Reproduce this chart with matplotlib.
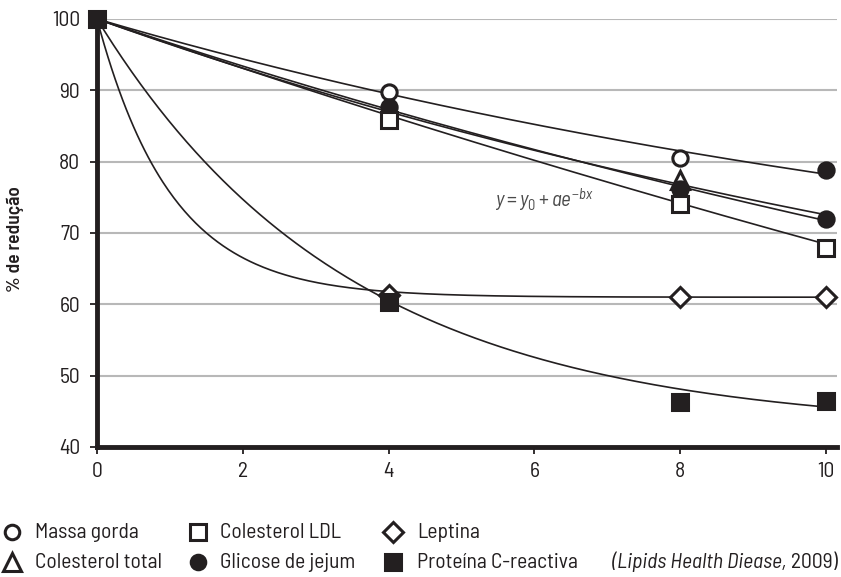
import numpy as np
import matplotlib
matplotlib.use("Agg")
import matplotlib.pyplot as plt

FONT = ['Barlow Semi Condensed', 'DejaVu Sans']
plt.rcParams['font.family'] = FONT
plt.rcParams['mathtext.fontset'] = 'custom'
plt.rcParams['mathtext.it'] = 'Barlow Semi Condensed:italic'
plt.rcParams['mathtext.rm'] = 'Barlow Semi Condensed'

# ---- data ----
weeks = [0, 4, 8, 10]
massa_gorda = [100, 89.8, 80.5, 78.9]
colesterol_total = [100, 87.0, 77.5, 72.0]
colesterol_ldl = [100, 85.8, 74.0, 67.9]
glicose_jejum = [100, 87.6, 76.1, 71.9]
leptina = [100, 61.3, 61.0, 61.0]
proteina_c = [100, 60.3, 46.3, 46.5]

series_names = ["Massa gorda", "Colesterol total", "Colesterol LDL",
                "Glicose de jejum", "Leptina", "Proteína C-reactiva"]
# fitted parameters of y = y0 + a*exp(-b*x)
fit_y0 = [55.9, 39.6, -51.9, 15.1, 61.0, 42.4]
fit_a = [44.1, 60.4, 151.9, 84.9, 39.0, 57.6]
fit_b = [0.068, 0.0606, 0.0233, 0.0405, 0.977, 0.289]

x_ticks = [0, 2, 4, 6, 8, 10]
y_ticks = [40, 50, 60, 70, 80, 90, 100]

ink = '#231f20'
grid = '#b8b8b8'
W, H = 841, 577

fig = plt.figure(figsize=(W/100, H/100), dpi=100)
ax = fig.add_axes([97/W, 1-447/H, (837-97)/W, (447-19)/H])
ax.set_xlim(0, 10.15)
ax.set_ylim(40, 100)

for yv in y_ticks[1:]:
    ax.axhline(yv, color=grid, lw=1.5, zorder=1)

xx = np.linspace(0, 10, 400)
for y0, a, b in zip(fit_y0, fit_a, fit_b):
    ax.plot(xx, y0 + a*np.exp(-b*xx), color=ink, lw=1.2, zorder=2, clip_on=False)

data = [massa_gorda, colesterol_total, colesterol_ldl, glicose_jejum, leptina, proteina_c]
styles = [
    dict(marker='o', ms=11, mfc='white'),
    dict(marker='^', ms=13, mfc='white'),
    dict(marker='s', ms=11.5, mfc='white'),
    dict(marker='o', ms=11, mfc=ink),
    dict(marker='D', ms=10.5, mfc='white'),
    dict(marker='s', ms=11.5, mfc=ink),
]
# which weeks show a visible marker (others are hidden under overlapping marks)
visible = [[1, 2], [2], [1, 2, 3], [1, 2, 3], [1, 2, 3], [1, 2, 3]]
order = [1, 4, 0, 3, 2, 5]
for i in order:
    st = styles[i]
    xs = [weeks[k] for k in visible[i]]
    ys = [data[i][k] for k in visible[i]]
    ax.plot(xs, ys, ls='none', marker=st['marker'], ms=st['ms'],
            mfc=st['mfc'], mec=ink, mew=2.2, zorder=4 + order.index(i), clip_on=False)
# Massa gorda final point drawn filled, as in the reference
ax.plot(weeks[3], massa_gorda[3], ls='none', marker='o', ms=11, mfc=ink, mec=ink,
        mew=2.2, zorder=20, clip_on=False)
ax.plot(weeks[0], proteina_c[0], ls='none', marker='s', ms=11.5, mfc=ink, mec=ink,
        mew=2.2, zorder=20, clip_on=False)

for s in ['top', 'right']:
    ax.spines[s].set_visible(False)
for s in ['left', 'bottom']:
    ax.spines[s].set_linewidth(3.5)
    ax.spines[s].set_color(ink)
    ax.spines[s].set_zorder(30)

ax.set_xticks(x_ticks)
ax.set_yticks(y_ticks)
ax.tick_params(axis='both', colors=ink, labelsize=15.5, width=1.3, length=5, direction='out')
ax.tick_params(axis='x', pad=6)
ax.tick_params(axis='y', pad=7)

fig.text(15/W, 1-239/H, '% de redução', rotation=90, ha='center', va='center',
         fontsize=14, fontweight='semibold', color=ink)

fig.text(495/W, 1-200/H, r'$y = y_0 + ae^{-bx}$', fontsize=15, color='#4a4a4a',
         ha='left', va='center')

# legend, drawn on a figure-sized overlay in pixel units
lg = fig.add_axes([0, 0, 1, 1], facecolor='none')
lg.set_xlim(0, W)
lg.set_ylim(H, 0)
lg.axis('off')
leg_marker_x = [12, 12, 198, 198, 393, 393]
leg_text_x = [35, 35, 220, 220, 417, 417]
leg_y = [532, 562, 532, 562, 532, 562]
for i in range(6):
    st = styles[i]
    lg.plot(leg_marker_x[i], leg_y[i], ls='none', marker=st['marker'],
            ms=st['ms']*0.95, mfc=st['mfc'], mec=ink, mew=2.2)
    lg.text(leg_text_x[i], leg_y[i], series_names[i], fontsize=15.5, color=ink,
            ha='left', va='center')

fig.text(838/W, 1-562/H, '2009)', ha='right', va='center', fontsize=15.5, color=ink)
fig.text(786/W, 1-562/H, '(Lipids Health Diease,', ha='right', va='center',
         fontsize=15.5, color=ink, style='italic')

fig.savefig('out.png', dpi=100)
